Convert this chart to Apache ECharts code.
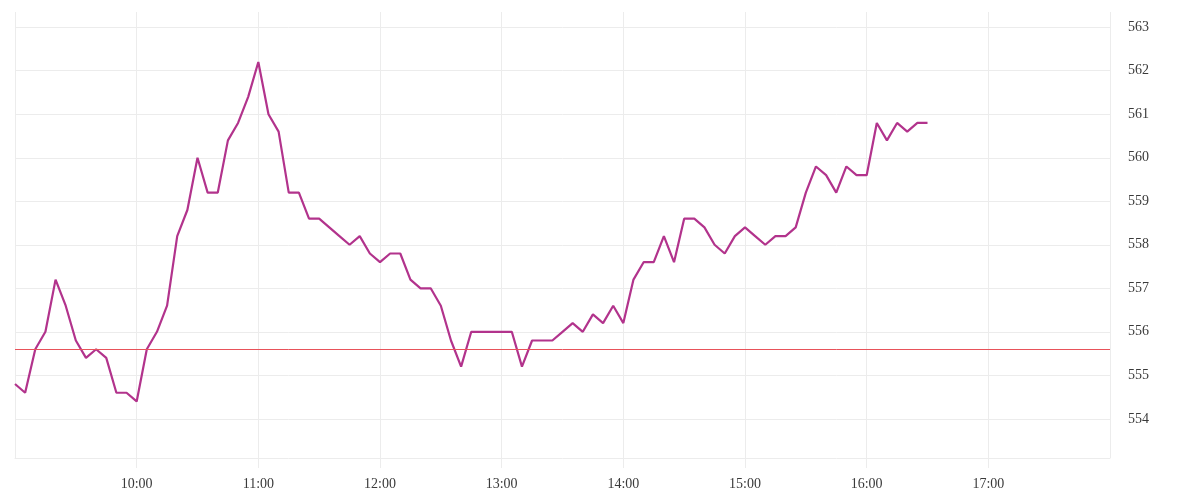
<!DOCTYPE html>
<html>
<head>
<meta charset="utf-8">
<script src="https://cdn.jsdelivr.net/npm/echarts@6/dist/echarts.min.js"></script>
<style>html,body{margin:0;padding:0;background:#fff}#c{width:1200px;height:500px}</style>
</head>
<body>
<div id="c"></div>
<script>
const times = [
"09:00","09:05","09:10","09:15","09:20","09:25","09:30","09:35","09:40","09:45","09:50","09:55",
"10:00","10:05","10:10","10:15","10:20","10:25","10:30","10:35","10:40","10:45","10:50","10:55",
"11:00","11:05","11:10","11:15","11:20","11:25","11:30","11:35","11:40","11:45","11:50","11:55",
"12:00","12:05","12:10","12:15","12:20","12:25","12:30","12:35","12:40","12:45","12:50","12:55",
"13:00","13:05","13:10","13:15","13:20","13:25","13:30","13:35","13:40","13:45","13:50","13:55",
"14:00","14:05","14:10","14:15","14:20","14:25","14:30","14:35","14:40","14:45","14:50","14:55",
"15:00","15:05","15:10","15:15","15:20","15:25","15:30","15:35","15:40","15:45","15:50","15:55",
"16:00","16:05","16:10","16:15","16:20","16:25","16:30"
];
const prices = [
554.8,554.6,555.6,556.0,557.2,556.6,555.8,555.4,555.6,555.4,554.6,554.6,
554.4,555.6,556.0,556.6,558.2,558.8,560.0,559.2,559.2,560.4,560.8,561.4,
562.2,561.0,560.6,559.2,559.2,558.6,558.6,558.4,558.2,558.0,558.2,557.8,
557.6,557.8,557.8,557.2,557.0,557.0,556.6,555.8,555.2,556.0,556.0,556.0,
556.0,556.0,555.2,555.8,555.8,555.8,556.0,556.2,556.0,556.4,556.2,556.6,
556.2,557.2,557.6,557.6,558.2,557.6,558.6,558.6,558.4,558.0,557.8,558.2,
558.4,558.2,558.0,558.2,558.2,558.4,559.2,559.8,559.6,559.2,559.8,559.6,
559.6,560.8,560.4,560.8,560.6,560.8,560.8
];
const referencePrice = 555.6;
const xStart = "09:00", xEnd = "18:00";
const yMin = 553.1, yMax = 563.35;

function toMin(t){ const p = t.split(":"); return (+p[0])*60 + (+p[1]); }
function fmt(m){ const h = Math.floor(m/60), mm = m%60; return h + ":" + (mm<10?"0":"") + mm; }

const chart = echarts.init(document.getElementById('c'), null, {renderer:'canvas'});
const fontFam = "'Liberation Serif', 'DejaVu Serif', serif";
chart.setOption({
  animation: false,
  backgroundColor: '#ffffff',
  grid: { left: 15, right: 90, top: 12, bottom: 42 },
  xAxis: {
    type: 'value',
    min: toMin(xStart), max: toMin(xEnd), interval: 60,
    axisLine: { show: true, lineStyle: { color: '#ececec', width: 1 } },
    axisTick: { show: true, length: 10, lineStyle: { color: '#ececec', width: 1 } },
    splitLine: { show: true, lineStyle: { color: '#ececec', width: 1 } },
    axisLabel: {
      showMinLabel: false, showMaxLabel: false,
      color: '#3a3a3a', fontSize: 14, fontFamily: fontFam, margin: 19,
      formatter: v => fmt(v)
    }
  },
  yAxis: {
    type: 'value', position: 'right',
    min: yMin, max: yMax,
    splitNumber: 10,
    axisLine: { show: false },
    axisTick: { show: false },
    splitLine: { show: true, showMinLine: false, showMaxLine: false, lineStyle: { color: '#ececec', width: 1 } },
    axisLabel: {
      showMinLabel: false, showMaxLabel: false,
      color: '#3a3a3a', fontSize: 14, fontFamily: fontFam, margin: 18,
      padding: [5, 0, 0, 0],
      formatter: v => String(Math.round(v))
    }
  },
  series: [{
    type: 'line',
    data: times.map((t, i) => [toMin(t), prices[i]]),
    showSymbol: false,
    lineStyle: { color: '#b2338c', width: 2.2 },
    itemStyle: { color: '#b2338c' },
    markLine: {
      silent: true, symbol: 'none', label: { show: false },
      lineStyle: { color: '#e8525a', width: 1, type: 'solid' },
      data: [{ yAxis: referencePrice }]
    }
  }]
});
</script>
</body>
</html>
